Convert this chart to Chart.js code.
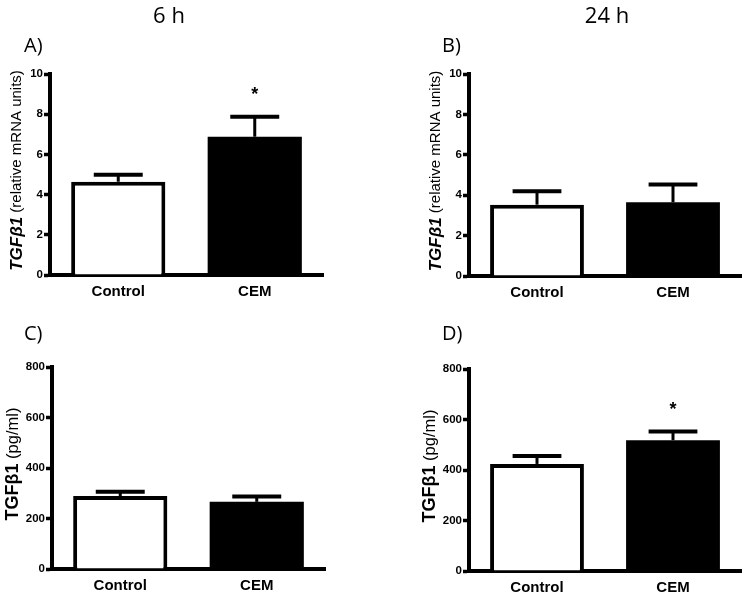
<!DOCTYPE html>
<html>
<head>
<meta charset="utf-8">
<script src="https://cdn.jsdelivr.net/npm/chart.js@4"></script>
<style>
  body { margin: 0; background: #fff; }
  #wrap { position: relative; width: 747px; height: 594px; }
  #wrap canvas { position: absolute; left: 0; top: 0; }
</style>
</head>
<body>
<div id="wrap">
  <canvas id="chartA" width="747" height="594"></canvas>
  <canvas id="chartB" width="747" height="594"></canvas>
  <canvas id="chartC" width="747" height="594"></canvas>
  <canvas id="chartD" width="747" height="594"></canvas>
</div>
<script>
// groups on the x axis
const groups = ['Control', 'CEM'];

// A) TGFb1 mRNA, 6 h
const mrna6h = [4.64, 6.88];
const mrna6hErr = [0.35, 0.99];
const mrna6hSig = [false, true];

// B) TGFb1 mRNA, 24 h
const mrna24h = [3.53, 3.65];
const mrna24hErr = [0.67, 0.88];
const mrna24hSig = [false, false];

// C) TGFb1 protein, 6 h
const prot6h = [289, 266];
const prot6hErr = [17, 21];
const prot6hSig = [false, false];

// D) TGFb1 protein, 24 h
const prot24h = [424, 518];
const prot24hErr = [31, 34];
const prot24hSig = [false, true];

const mrnaTicks = { max: 10, step: 2 };
const protTicks = { max: 800, step: 200 };

const SANS = '"Liberation Sans", Arial, sans-serif';
const OPEN = '"Open Sans", "DejaVu Sans", sans-serif';

// error bars (upper SEM only) + significance star
const errorBars = {
  id: 'errorBars',
  afterDatasetsDraw(chart, args, opts) {
    const ctx = chart.ctx;
    const y = chart.scales.y;
    const meta = chart.getDatasetMeta(0);
    const vals = chart.data.datasets[0].data;
    ctx.save();
    ctx.strokeStyle = '#000';
    ctx.fillStyle = '#000';
    meta.data.forEach((bar, i) => {
      const top = y.getPixelForValue(vals[i] + opts.err[i]);
      const half = bar.width * 0.26;
      ctx.lineWidth = 3;
      ctx.beginPath();
      ctx.moveTo(bar.x, bar.y);
      ctx.lineTo(bar.x, top);
      ctx.stroke();
      ctx.lineWidth = 4;
      ctx.beginPath();
      ctx.moveTo(bar.x - half, top);
      ctx.lineTo(bar.x + half, top);
      ctx.stroke();
      if (opts.sig[i]) {
        ctx.font = 'bold 18px ' + SANS;
        ctx.textAlign = 'center';
        ctx.textBaseline = 'alphabetic';
        ctx.fillText('*', bar.x, top - 17);
      }
    });
    ctx.restore();
  }
};

// rotated y title with mixed fonts, plus panel letter and column title
const panelText = {
  id: 'panelText',
  afterDraw(chart, args, opts) {
    const ctx = chart.ctx;
    const area = chart.chartArea;
    ctx.save();
    ctx.fillStyle = '#000';
    ctx.textBaseline = 'middle';
    let total = 0;
    opts.yTitle.forEach(p => { ctx.font = p.font; total += ctx.measureText(p.text).width; });
    ctx.translate(area.left - opts.yOffset, (area.top + area.bottom) / 2 - 4);
    ctx.rotate(-Math.PI / 2);
    let x = -total / 2;
    ctx.textAlign = 'left';
    opts.yTitle.forEach(p => {
      ctx.font = p.font;
      ctx.fillText(p.text, x, 0);
      x += ctx.measureText(p.text).width;
    });
    ctx.restore();

    ctx.save();
    ctx.fillStyle = '#000';
    ctx.textBaseline = 'alphabetic';
    ctx.font = '20px ' + OPEN;
    ctx.textAlign = 'left';
    ctx.fillText(opts.letter, opts.letterX, opts.letterY);
    if (opts.title) {
      ctx.font = '22px ' + OPEN;
      ctx.textAlign = 'center';
      ctx.fillText(opts.title, opts.titleX, 23);
    }
    ctx.restore();
  }
};

function makePanel(id, values, err, sig, range, pad, xHeight, text) {
  return new Chart(document.getElementById(id), {
    type: 'bar',
    data: {
      labels: groups,
      datasets: [{
        data: values,
        backgroundColor: ['#fff', '#000'],
        borderColor: '#000',
        borderWidth: [4, 0],
        barPercentage: 0.69,
        categoryPercentage: 1
      }]
    },
    options: {
      responsive: false,
      animation: false,
      events: [],
      layout: { padding: pad },
      plugins: {
        legend: { display: false },
        tooltip: { enabled: false },
        errorBars: { err: err, sig: sig },
        panelText: text
      },
      scales: {
        x: {
          grid: { display: false, drawTicks: false },
          border: { display: true, color: '#000', width: 4 },
          ticks: { color: '#000', padding: 8, font: { family: SANS, size: 15, weight: 'bold' } },
          afterFit(scale) { scale.height = xHeight; }
        },
        y: {
          min: 0,
          max: range.max,
          grid: { drawOnChartArea: false, drawTicks: true, tickLength: 6, tickWidth: 3.5, tickColor: '#000', color: '#000' },
          border: { display: true, color: '#000', width: 4 },
          ticks: { stepSize: range.step, color: '#000', padding: 1, font: { family: SANS, size: 11.5, weight: 'bold' } },
          afterFit(scale) { scale.width = 45; }
        }
      }
    },
    plugins: [errorBars, panelText]
  });
}

const mrnaTitle = [
  { text: 'TGFβ1', font: 'italic bold 17px ' + SANS },
  { text: ' (relative mRNA units)', font: '15px ' + SANS }
];
const protTitle = [
  { text: 'TGFβ1', font: 'bold 18px ' + SANS },
  { text: ' (pg/ml)', font: '16.5px ' + SANS }
];

makePanel('chartA', mrna6h, mrna6hErr, mrna6hSig, mrnaTicks,
  { left: 5, right: 424, top: 74, bottom: 289 }, 30,
  { yTitle: mrnaTitle, yOffset: 33, letter: 'A)', letterX: 24, letterY: 52, title: '6 h', titleX: 169 });

makePanel('chartB', mrna24h, mrna24hErr, mrna24hSig, mrnaTicks,
  { left: 424, right: 6, top: 74, bottom: 288 }, 30,
  { yTitle: mrnaTitle, yOffset: 33, letter: 'B)', letterX: 442, letterY: 52, title: '24 h', titleX: 607 });

makePanel('chartC', prot6h, prot6hErr, prot6hSig, protTicks,
  { left: 7, right: 422, top: 367, bottom: 0 }, 25,
  { yTitle: protTitle, yOffset: 39, letter: 'C)', letterX: 24, letterY: 340 });

makePanel('chartD', prot24h, prot24hErr, prot24hSig, protTicks,
  { left: 424, right: 6, top: 369, bottom: 0 }, 23,
  { yTitle: protTitle, yOffset: 39, letter: 'D)', letterX: 442, letterY: 340 });
</script>
</body>
</html>
